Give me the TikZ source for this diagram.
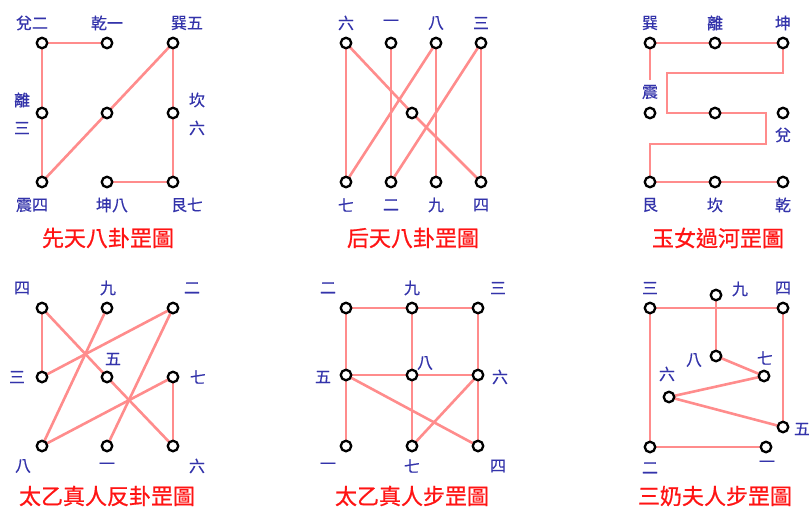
\documentclass[tikz,border=0pt]{standalone}
\usepackage{fontspec}
\newfontfamily\cjk[FakeBold=0.4]{Noto Sans CJK TC}
\newfontfamily\cjkt[FakeBold=0.8]{Noto Sans CJK TC}
\definecolor{lnk}{RGB}{255,140,140}
\definecolor{lbl}{RGB}{51,51,170}
\definecolor{ttlc}{RGB}{255,20,20}
\pgfdeclarelayer{bg}
\pgfsetlayers{bg,main}
\tikzset{
 pt/.style={circle,draw=black,fill=white,line width=2.3pt,minimum size=10.5pt,inner sep=0pt},
 lab/.style={font=\cjk\fontsize{16}{16}\selectfont,text=lbl,inner sep=0pt},
 ttl/.style={font=\cjkt\fontsize{22}{22}\selectfont,text=ttlc,inner sep=0pt},
 ln/.style={draw=lnk,line width=2.6pt,line join=miter},
}
\begin{document}
\begin{tikzpicture}[x=1pt,y=-1pt]
\useasboundingbox (0,0) rectangle (809,512);
% ---------- Panel 1 ----------
\node[pt] (A11) at (42,43) {};
\node[pt] (A12) at (107,43) {};
\node[pt] (A13) at (173,43) {};
\node[pt] (A21) at (42,113) {};
\node[pt] (A22) at (107,113) {};
\node[pt] (A23) at (173,113) {};
\node[pt] (A31) at (42,182) {};
\node[pt] (A32) at (107,182) {};
\node[pt] (A33) at (173,182) {};
\node[lab] (LA11) at (32,23) {兌二};
\node[lab] (LA12) at (107,23) {乾一};
\node[lab] (LA13) at (187,23) {巽五};
\node[lab] (LA21a) at (22,100) {離};
\node[lab] (LA21b) at (22,128) {三};
\node[lab] (LA23a) at (197,100) {坎};
\node[lab] (LA23b) at (197,128) {六};
\node[lab] (LA31) at (32,205) {震四};
\node[lab] (LA32) at (112,205) {坤八};
\node[lab] (LA33) at (187,205) {艮七};
\node[ttl] (TA) at (108,238) {先天八卦罡圖};
% ---------- Panel 2 ----------
\node[pt] (BT1) at (346,43) {};
\node[pt] (BT2) at (391,43) {};
\node[pt] (BT3) at (436,43) {};
\node[pt] (BT4) at (481,43) {};
\node[pt] (BC) at (412,113) {};
\node[pt] (BB1) at (346,182) {};
\node[pt] (BB2) at (391,182) {};
\node[pt] (BB3) at (436,182) {};
\node[pt] (BB4) at (481,182) {};
\node[lab] (LBT1) at (346,23) {六};
\node[lab] (LBT2) at (391,23) {一};
\node[lab] (LBT3) at (436,23) {八};
\node[lab] (LBT4) at (481,23) {三};
\node[lab] (LBB1) at (346,205) {七};
\node[lab] (LBB2) at (391,205) {二};
\node[lab] (LBB3) at (436,205) {九};
\node[lab] (LBB4) at (481,205) {四};
\node[ttl] (TB) at (413,238) {后天八卦罡圖};
% ---------- Panel 3 ----------
\node[pt] (C11) at (650,43) {};
\node[pt] (C12) at (715,43) {};
\node[pt] (C13) at (783,43) {};
\node[pt] (C21) at (650,113) {};
\node[pt] (C22) at (715,113) {};
\node[pt] (C23) at (783,113) {};
\node[pt] (C31) at (650,182) {};
\node[pt] (C32) at (715,182) {};
\node[pt] (C33) at (783,182) {};
\coordinate (c3z) at (650,80);
\coordinate (c3a) at (783,73);
\coordinate (c3b) at (667,73);
\coordinate (c3c) at (667,113);
\coordinate (c3d) at (766,113);
\coordinate (c3e) at (766,144);
\coordinate (c3f) at (650,144);
\node[lab] (LC11) at (650,23) {巽};
\node[lab] (LC12) at (715,23) {離};
\node[lab] (LC13) at (783,23) {坤};
\node[lab] (LC21) at (650,92) {震};
\node[lab] (LC23) at (783,135) {兌};
\node[lab] (LC31) at (650,205) {艮};
\node[lab] (LC32) at (715,205) {坎};
\node[lab] (LC33) at (783,205) {乾};
\node[ttl] (TC) at (718,238) {玉女過河罡圖};
% ---------- Panel 4 ----------
\node[pt] (D11) at (42,308) {};
\node[pt] (D12) at (107,308) {};
\node[pt] (D13) at (173,308) {};
\node[pt] (D21) at (42,377) {};
\node[pt] (D22) at (107,377) {};
\node[pt] (D23) at (173,377) {};
\node[pt] (D31) at (42,446) {};
\node[pt] (D32) at (107,446) {};
\node[pt] (D33) at (173,446) {};
\node[lab] (LD11) at (22,288) {四};
\node[lab] (LD12) at (108,288) {九};
\node[lab] (LD13) at (192,288) {二};
\node[lab] (LD21) at (17,377) {三};
\node[lab] (LD22) at (113,359) {五};
\node[lab] (LD23) at (198,377) {七};
\node[lab] (LD31) at (23,466) {八};
\node[lab] (LD32) at (107,466) {一};
\node[lab] (LD33) at (197,466) {六};
\node[ttl] (TD) at (107,496) {太乙真人反卦罡圖};
% ---------- Panel 5 ----------
\node[pt] (E11) at (346,308) {};
\node[pt] (E12) at (412,308) {};
\node[pt] (E13) at (478,308) {};
\node[pt] (E21) at (346,375) {};
\node[pt] (E22) at (412,375) {};
\node[pt] (E23) at (478,375) {};
\node[pt] (E31) at (346,446) {};
\node[pt] (E32) at (412,446) {};
\node[pt] (E33) at (478,446) {};
\node[lab] (LE11) at (328,288) {二};
\node[lab] (LE12) at (412,288) {九};
\node[lab] (LE13) at (498,288) {三};
\node[lab] (LE21) at (323,377) {五};
\node[lab] (LE22) at (425,363) {八};
\node[lab] (LE23) at (500,377) {六};
\node[lab] (LE31) at (328,466) {一};
\node[lab] (LE32) at (412,466) {七};
\node[lab] (LE33) at (498,466) {四};
\node[ttl] (TE) at (412,496) {太乙真人步罡圖};
% ---------- Panel 6 ----------
\node[pt] (F3) at (650,308) {};
\node[pt] (F9) at (716,295) {};
\node[pt] (F4) at (783,308) {};
\node[pt] (F8) at (716,356) {};
\node[pt] (F7) at (764,376) {};
\node[pt] (F6) at (669,397) {};
\node[pt] (F5) at (783,427) {};
\node[pt] (F2) at (650,447) {};
\node[pt] (F1) at (766,447) {};
\node[lab] (LF3) at (650,288) {三};
\node[lab] (LF9) at (740,289) {九};
\node[lab] (LF4) at (783,288) {四};
\node[lab] (LF8) at (694,360) {八};
\node[lab] (LF7) at (765,358) {七};
\node[lab] (LF6) at (667,374) {六};
\node[lab] (LF5) at (802,429) {五};
\node[lab] (LF2) at (650,468) {二};
\node[lab] (LF1) at (767,464) {一};
\node[ttl] (TF) at (715,496) {三奶夫人步罡圖};
% ---------- Connectors ----------
\begin{pgfonlayer}{bg}
\draw[ln] (A11.center) -- (A12.center);
\draw[ln] (A11.center) -- (A21.center) -- (A31.center);
\draw[ln] (A31.center) -- (A22.center) -- (A13.center);
\draw[ln] (A13.center) -- (A23.center) -- (A33.center) -- (A32.center);
\draw[ln] (BT1.center) -- (BB1.center);
\draw[ln] (BT1.center) -- (BC.center) -- (BB4.center);
\draw[ln] (BT2.center) -- (BB2.center);
\draw[ln] (BT3.center) -- (BB1.center);
\draw[ln] (BT3.center) -- (BB3.center);
\draw[ln] (BT4.center) -- (BB2.center);
\draw[ln] (BT4.center) -- (BB4.center);
\draw[ln] (c3z) -- (C11.center) -- (C12.center) -- (C13.center) -- (c3a) -- (c3b) -- (c3c) -- (C22.center) -- (c3d) -- (c3e) -- (c3f) -- (C31.center) -- (C32.center) -- (C33.center);
\draw[ln] (D11.center) -- (D21.center);
\draw[ln] (D11.center) -- (D22.center) -- (D33.center);
\draw[ln] (D21.center) -- (D13.center);
\draw[ln] (D13.center) -- (D32.center);
\draw[ln] (D12.center) -- (D31.center);
\draw[ln] (D31.center) -- (D23.center);
\draw[ln] (D23.center) -- (D33.center);
\draw[ln] (E11.center) -- (E12.center) -- (E13.center);
\draw[ln] (E11.center) -- (E21.center) -- (E31.center);
\draw[ln] (E12.center) -- (E22.center) -- (E32.center);
\draw[ln] (E13.center) -- (E23.center) -- (E33.center);
\draw[ln] (E21.center) -- (E22.center) -- (E23.center);
\draw[ln] (E21.center) -- (E33.center);
\draw[ln] (E23.center) -- (E32.center);
\draw[ln] (F3.center) -- (F4.center);
\draw[ln] (F9.center) -- (F8.center);
\draw[ln] (F8.center) -- (F7.center) -- (F6.center) -- (F5.center);
\draw[ln] (F4.center) -- (F5.center);
\draw[ln] (F3.center) -- (F2.center) -- (F1.center);
\end{pgfonlayer}
\end{tikzpicture}
\end{document}
